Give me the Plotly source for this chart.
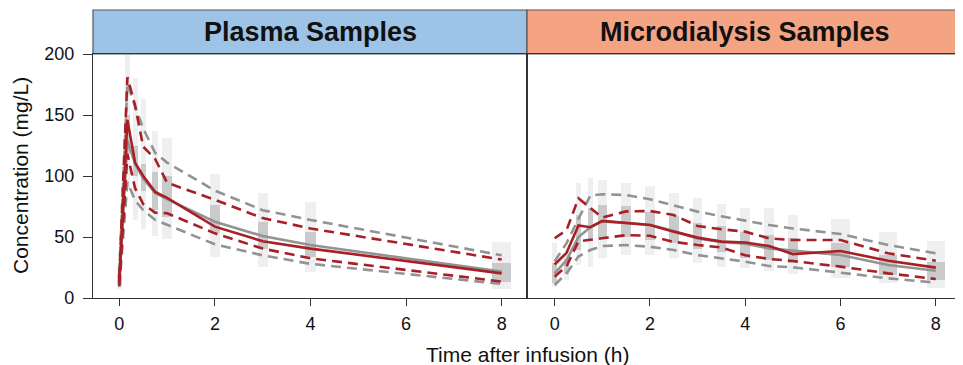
import plotly.graph_objects as go

# ---------------- data ----------------
plasma_time = [0, 0.17, 0.33, 0.5, 0.75, 1, 2, 3, 4, 8]
plasma_obs_med = [13, 146, 111, 100, 87, 82, 58.5, 46.5, 40.5, 20.2]
plasma_obs_p95 = [17, 181, 158, 124, 114, 94.5, 80.5, 65.5, 57, 31.5]
plasma_obs_p05 = [10, 118, 90, 77, 70, 69.5, 53, 40.5, 32.5, 13.5]
plasma_sim_med = [14, 129, 110, 98, 86, 81, 62.5, 50.8, 43.4, 21.6]
plasma_sim_p95 = [21, 176, 157, 139, 119, 111, 88, 72, 64, 35]
plasma_sim_p05 = [9, 95, 80, 72, 64, 60, 44, 35, 28, 11.5]
plasma_ci_lo = [7, 90, 64, 56.5, 51, 48, 34, 25.6, 21, 7]
plasma_ci_hi = [27, 199, 180, 163, 137, 131, 102, 86, 79, 46]
plasma_med_ci_lo = [11, 118, 100, 88, 72, 66.6, 53, 40, 34, 13.4]
plasma_med_ci_hi = [20, 150, 125, 110, 103.5, 100, 76, 62.6, 54, 28.4]

micro_time = [0, 0.25, 0.5, 0.75, 1, 1.5, 2, 2.5, 3, 3.5, 4, 4.5, 5, 6, 7, 8]
micro_obs_med = [27.5, 37, 59.5, 58, 63.2, 61.2, 59.8, 54.4, 49.5, 46.2, 45.5, 42.6, 36, 38.5, 30.6, 24.9]
micro_obs_p95 = [49, 55.7, 81.7, 74, 66, 71, 71.3, 68, 59, 56.3, 54.4, 48.9, 47.5, 47.5, 36.6, 30.6]
micro_obs_p05 = [17.5, 26, 46.5, 48, 49, 51.5, 51, 46, 43.4, 41.5, 35, 32, 30.3, 25.7, 20.2, 15.6]
micro_sim_med = [20.2, 31, 50, 57.9, 62.8, 61.5, 60, 55, 48.7, 46, 44.5, 40.7, 38.8, 35.2, 27, 22.4]
micro_sim_p95 = [30, 45, 65, 84, 85, 84.4, 81, 76, 70.8, 67, 63.5, 59.8, 57, 52.5, 43.4, 36.6]
micro_sim_p05 = [10.7, 20.2, 34, 39.3, 42.6, 43.4, 42, 39.3, 35.2, 32.5, 29.8, 26.2, 25.1, 20.8, 16.1, 12.6]
micro_ci_lo = [9.3, 15, 27, 25.6, 32.5, 35.2, 35.2, 32.5, 28.4, 25.6, 24.3, 22, 19.4, 16.7, 12.6, 8.4]
micro_ci_hi = [44.8, 38, 94, 98, 96.7, 94.5, 91.8, 85.8, 81.7, 77, 73.5, 73.5, 68, 64.5, 54.4, 46.7]
micro_med_ci_lo = [12, 20, 39, 47.5, 49, 50.3, 47.5, 45.3, 40, 38, 32.5, 31.1, 28.4, 25.7, 18.9, 14.8]
micro_med_ci_hi = [28.4, 32, 68, 73.5, 76, 75.4, 70.8, 67.2, 61.2, 59, 54.4, 51.6, 48.9, 45.3, 35.2, 29.8]

panel_titles = ["Plasma Samples", "Microdialysis Samples"]
y_ticks = [0, 50, 100, 150, 200]
x_ticks = [0, 2, 4, 6, 8]

# ---------------- style ----------------
plasma_bar_w = [0.105, 0.11, 0.105, 0.11, 0.115, 0.2, 0.21, 0.21, 0.21, 0.4]
micro_bar_w = [0.09, 0.09, 0.1, 0.1, 0.195, 0.2, 0.2, 0.2, 0.2, 0.2, 0.2, 0.2, 0.2, 0.39, 0.39, 0.39]
PALE = "#EDEFF0"
DARK = "#CACACA"
RED = "#A82026"
GREY = "#939393"
LW = 2.6
DASH = "10px,6px"
FONT = "Liberation Sans, Arial, sans-serif"

fig = go.Figure()


def add_panel(t, widths, ci_lo, ci_hi, m_lo, m_hi, sm, s95, s05, om, o95, o05, xa, ya):
    fig.add_trace(go.Bar(x=t, y=[h - l for l, h in zip(ci_lo, ci_hi)], base=ci_lo, width=widths,
                         marker=dict(color=PALE, line=dict(width=0)), xaxis=xa, yaxis=ya,
                         showlegend=False, hoverinfo="skip"))
    fig.add_trace(go.Bar(x=t, y=[h - l for l, h in zip(m_lo, m_hi)], base=m_lo, width=widths,
                         marker=dict(color=DARK, line=dict(width=0)), xaxis=xa, yaxis=ya,
                         showlegend=False, hoverinfo="skip"))
    for ys, dash in ((s95, DASH), (s05, DASH), (sm, "solid")):
        fig.add_trace(go.Scatter(x=t, y=ys, mode="lines", line=dict(color=GREY, width=LW, dash=dash),
                                 xaxis=xa, yaxis=ya, showlegend=False))
    for ys, dash in ((o95, DASH), (o05, DASH), (om, "solid")):
        fig.add_trace(go.Scatter(x=t, y=ys, mode="lines", line=dict(color=RED, width=LW, dash=dash),
                                 xaxis=xa, yaxis=ya, showlegend=False))


add_panel(plasma_time, plasma_bar_w, plasma_ci_lo, plasma_ci_hi, plasma_med_ci_lo, plasma_med_ci_hi,
          plasma_sim_med, plasma_sim_p95, plasma_sim_p05, plasma_obs_med, plasma_obs_p95, plasma_obs_p05,
          "x", "y")
add_panel(micro_time, micro_bar_w, micro_ci_lo, micro_ci_hi, micro_med_ci_lo, micro_med_ci_hi,
          micro_sim_med, micro_sim_p95, micro_sim_p05, micro_obs_med, micro_obs_p95, micro_obs_p05,
          "x2", "y2")

# page body has an 8px margin: figure placed at (8, 8)
OFF = 8
W, H = 963 - OFF, 365 - OFF
ML, MR, MT, MB = 93 - OFF, 1, 10 - OFF, 67
pw = W - ML - MR
ph = H - MT - MB
split = 434 / pw
ytop = 244 / ph

axis_common = dict(showline=True, linecolor="#333333", linewidth=1.3, mirror=True,
                   showgrid=False, zeroline=False, tickcolor="#333333",
                   tickfont=dict(family=FONT, size=18, color="#111111"))

fig.update_layout(
    width=W, height=H, margin=dict(l=ML, r=MR, t=MT, b=MB, autoexpand=False),
    paper_bgcolor="white", plot_bgcolor="white", barmode="overlay", bargap=0,
    xaxis=dict(domain=[0, split], range=[-0.55, 8.53], tickvals=x_ticks, ticks="outside", ticklen=7,
               ticklabelstandoff=2, anchor="y", **axis_common),
    xaxis2=dict(domain=[split, 1], range=[-0.58, 8.55], tickvals=x_ticks, ticks="outside", ticklen=7,
                ticklabelstandoff=2, anchor="y2", **axis_common),
    yaxis=dict(domain=[0, ytop], range=[0, 200], tickvals=y_ticks, ticks="outside", ticklen=9,
               ticklabelstandoff=5, anchor="x", **axis_common),
    yaxis2=dict(domain=[0, ytop], range=[0, 200], tickvals=y_ticks, ticks="", showticklabels=False,
                anchor="x2", **axis_common),
)

strip_colors = ["#9DC3E6", "#F4A383"]
doms = [(0, split), (split, 1)]
for (x0, x1), col, title in zip(doms, strip_colors, panel_titles):
    fig.add_shape(type="rect", xref="paper", yref="paper", x0=x0, x1=x1, y0=ytop, y1=1,
                  fillcolor=col, line=dict(color="#555555", width=1.2), layer="below")
    fig.add_annotation(xref="paper", yref="paper", x=(x0 + x1) / 2, y=(ytop + 1) / 2, text=f"<b>{title}</b>",
                       showarrow=False, font=dict(family=FONT, size=27, color="#111111"),
                       xanchor="center", yanchor="middle")

fig.add_annotation(xref="paper", yref="paper", x=split, y=(298 - 354) / ph, text="Time after infusion (h)",
                   showarrow=False, font=dict(family=FONT, size=21, color="#111111"),
                   xanchor="center", yanchor="middle")
fig.add_annotation(xref="paper", yref="paper", x=(20 - 93) / pw, y=ytop / 2, text="Concentration (mg/L)",
                   textangle=-90, showarrow=False, font=dict(family=FONT, size=21, color="#111111"),
                   xanchor="center", yanchor="middle")

fig.write_html("out.html")
